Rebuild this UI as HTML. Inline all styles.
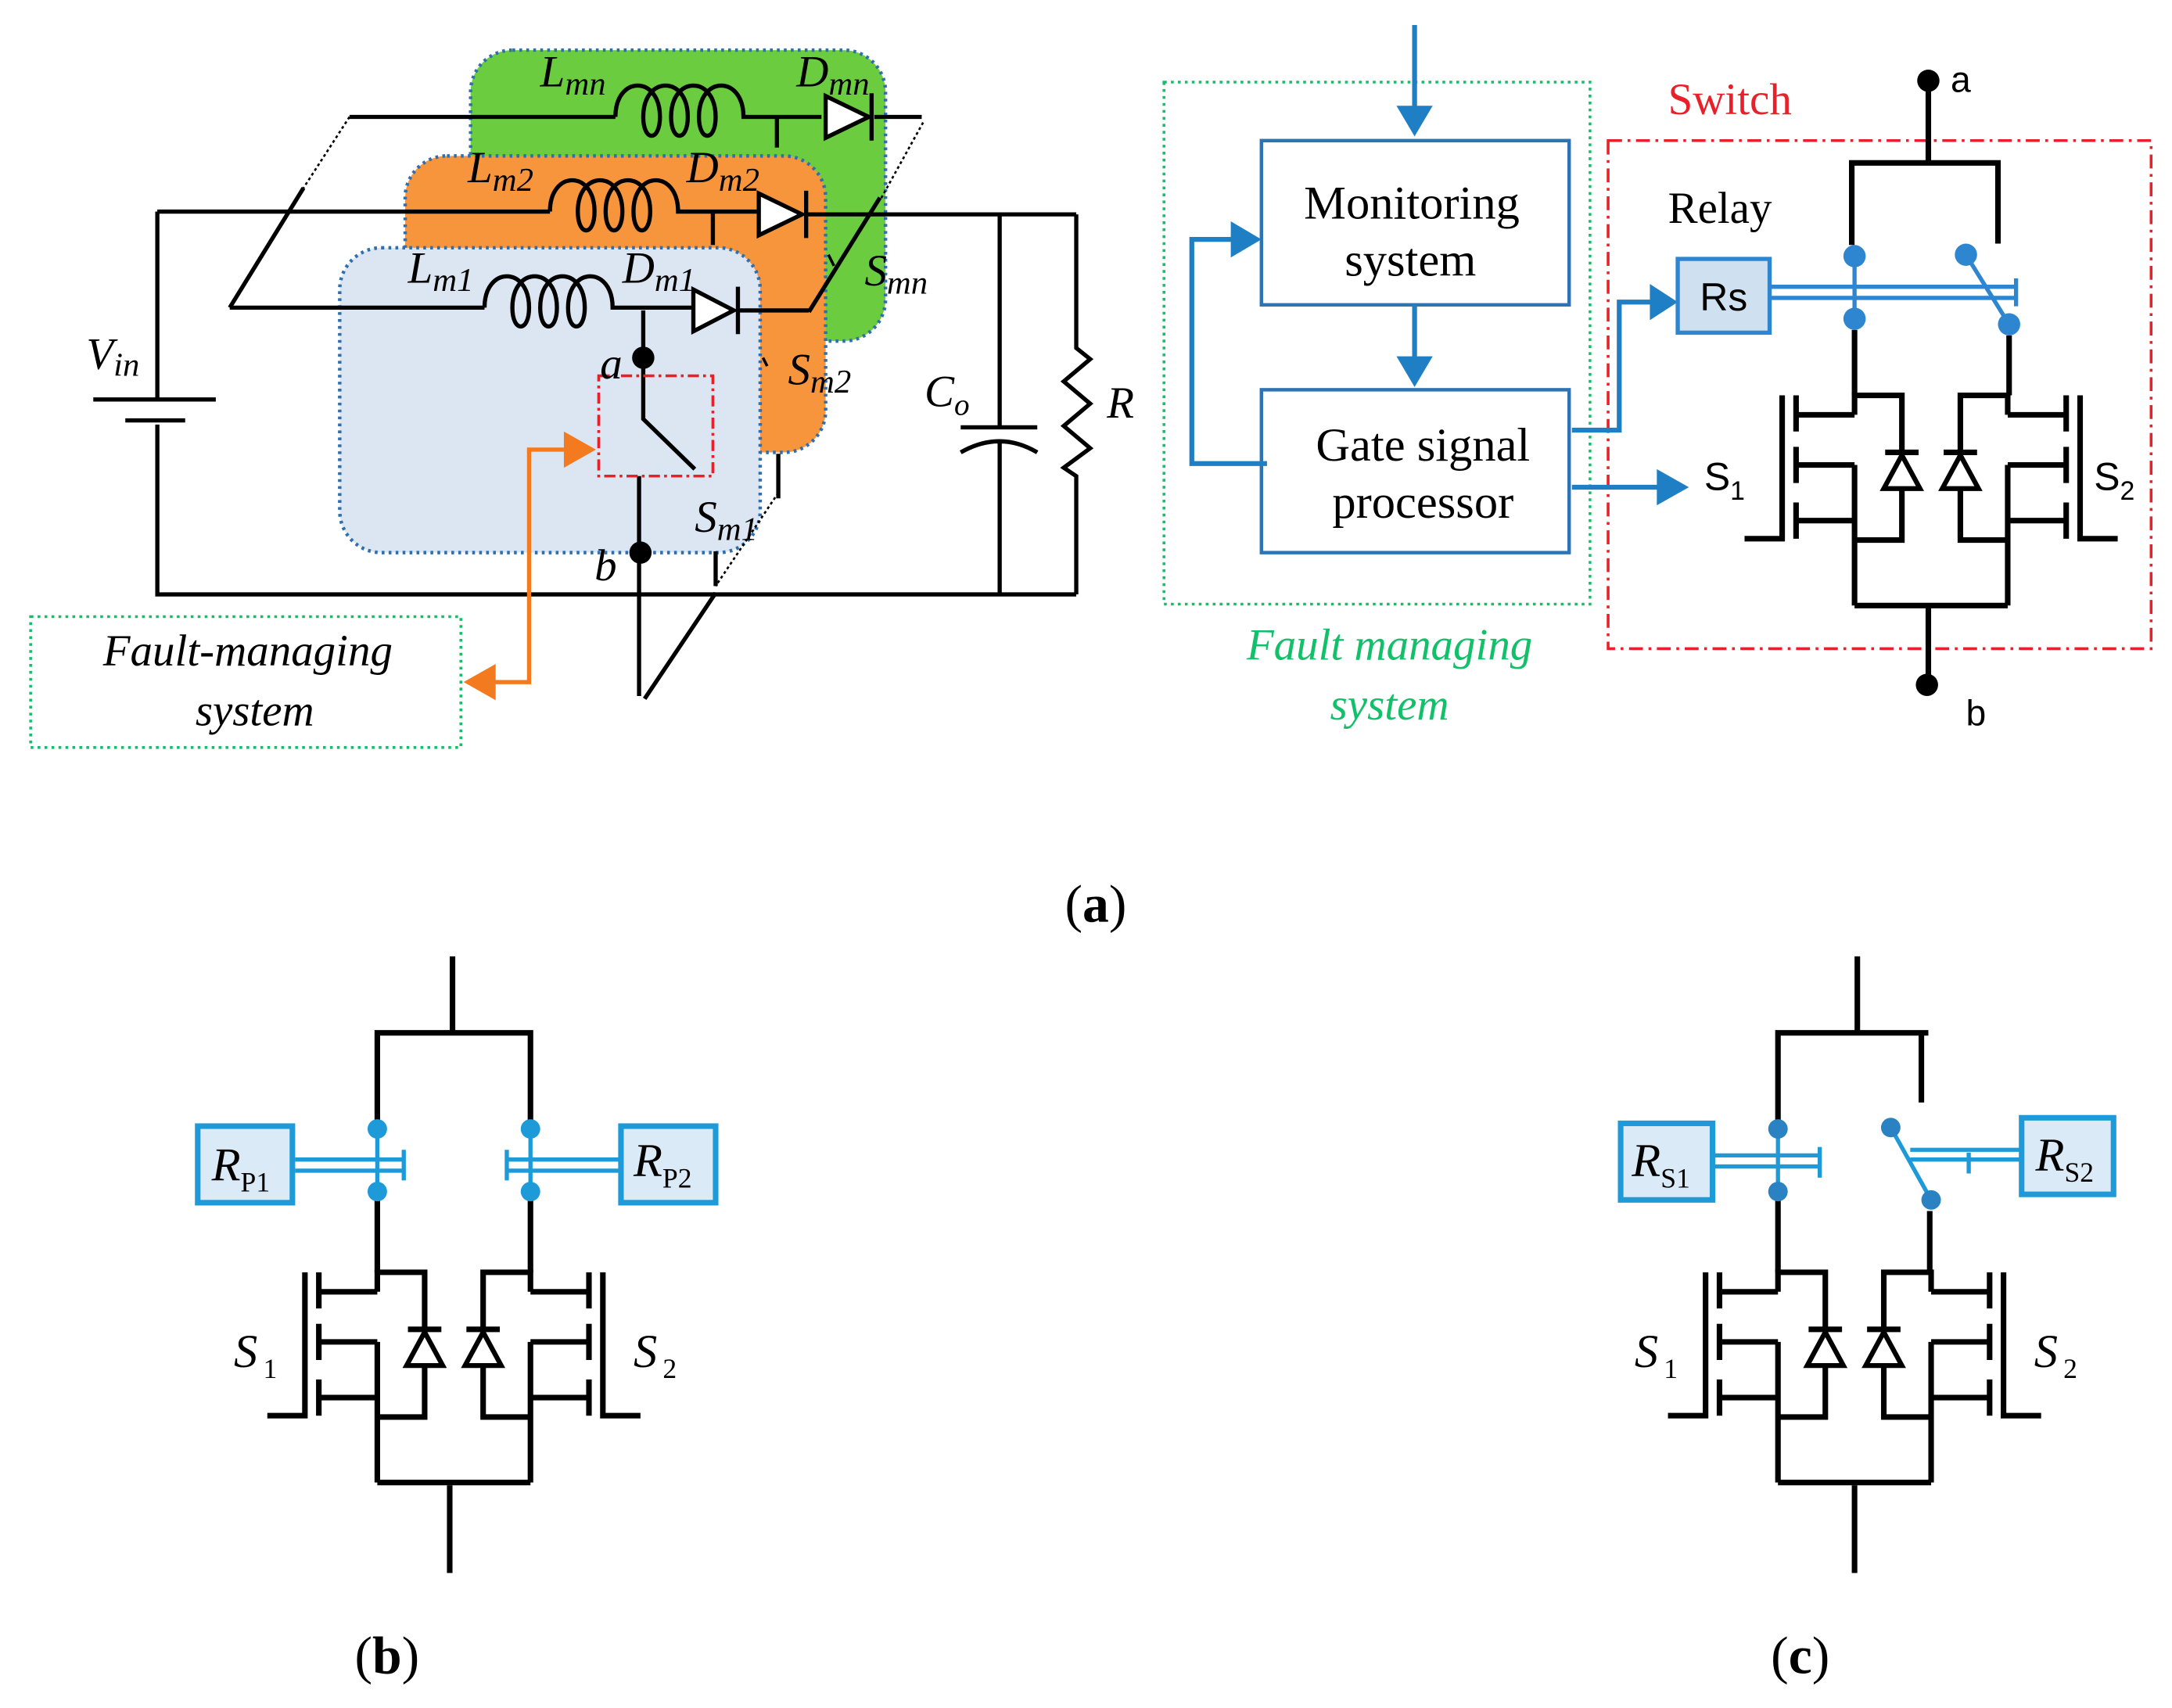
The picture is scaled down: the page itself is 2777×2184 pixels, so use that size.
<!DOCTYPE html>
<html><head><meta charset="utf-8"><style>
html,body{margin:0;padding:0;background:#fff;}
svg{display:block;}
text{font-family:"Liberation Serif",serif;}
</style></head><body>
<svg width="2777" height="2184" viewBox="0 0 1560 1227" preserveAspectRatio="none" xmlns="http://www.w3.org/2000/svg">
<defs>
<g id="fethalf" fill="none" stroke="#000" stroke-width="4">
  <path d="M0,-2 V14 M0,50 V151 M0,0 H34 V41 M34,68 V104 H0 M0,14 H-42 M-42,0 V26 M-42,37 V63 M-42,77 V103 M-52,0 V103 H-79 M-42,50 H0 M-42,90 H0"/>
  <path d="M22,41 H46" />
  <path d="M34,43 L21,67 H47 Z" fill="#fff" stroke-width="3.5"/>
</g>
<g id="fetpair">
  <use href="#fethalf"/>
  <use href="#fethalf" transform="translate(110,0) scale(-1,1)"/>
  <path d="M0,151 H110" stroke="#000" stroke-width="4"/>
</g>
</defs>

<!-- ============ Panel (a) left ============ -->
<rect x="338" y="36" width="298" height="209" rx="30" fill="#6ccc40" stroke="#2f6fb0" stroke-width="2.5" stroke-dasharray="2,3"/>
<rect x="291" y="112" width="302" height="213" rx="30" fill="#f7953d" stroke="#2f6fb0" stroke-width="2.5" stroke-dasharray="2,3"/>
<rect x="244" y="178" width="302" height="219" rx="30" fill="#dbe6f2" stroke="#2f6fb0" stroke-width="2.5" stroke-dasharray="2,3"/>

<g fill="none" stroke="#000" stroke-width="3">
  <path d="M251,84 H442"/>
  <path d="M442,84 c0,-30 32,-30 32,0 c0,18 -12,18 -12,0 c0,-30 32,-30 32,0 c0,18 -12,18 -12,0 c0,-30 32,-30 32,0 c0,18 -12,18 -12,0 c0,-30 32,-30 32,0 H590"/>
  <path d="M558,84 V106"/>
  <path d="M628,84 H662"/>
  <path d="M251,84 L218,135" stroke-width="1.5" stroke-dasharray="2,2"/>
  <path d="M663,88 L632,144" stroke-width="1.5" stroke-dasharray="2,2"/>
  <path d="M218,135 L165,221"/>
  <path d="M632,142 L581,224"/>
  <path d="M113,152 H395"/>
  <path d="M395,152 c0,-30 32,-30 32,0 c0,18 -12,18 -12,0 c0,-30 32,-30 32,0 c0,18 -12,18 -12,0 c0,-30 32,-30 32,0 c0,18 -12,18 -12,0 c0,-30 32,-30 32,0 H545"/>
  <path d="M512,152 V176"/>
  <path d="M580,154 H773"/>
  <path d="M165,221 H348"/>
  <path d="M348,221 c0,-30 32,-30 32,0 c0,18 -12,18 -12,0 c0,-30 32,-30 32,0 c0,18 -12,18 -12,0 c0,-30 32,-30 32,0 c0,18 -12,18 -12,0 c0,-30 32,-30 32,0 H497"/>
  <path d="M530,223 H581"/>
  <path d="M462,223 V257 V301 L499,337"/>
  <path d="M459,342 V500"/>
  <path d="M559,326 V358 M514,396 V421"/>
  <path d="M559,354 L514,421" stroke-width="1.5" stroke-dasharray="2,2"/>
  <path d="M514,426 L463,502"/>
  <path d="M595,183 l4,8 M548,257 l3,6" stroke-width="2"/>
  <path d="M113,152 V286 M67,287 H155 M90,302 H133 M113,305 V427 H773"/>
  <path d="M718,154 V307 M690,307 H745 M690,325 Q718,309 745,325 M718,317 V427"/>
  <path d="M773,154 V250 L783,258 L764,274 L783,290 L764,306 L783,322 L764,336 L773,342 V427"/>
</g>
<g fill="#fff" stroke="#000" stroke-width="3">
  <path d="M593,69 V99 L624,84 Z"/><path d="M626,67 V101" fill="none"/>
  <path d="M545,139 V169 L576,154 Z"/><path d="M579,137 V171" fill="none"/>
  <path d="M498,208 V238 L527,223 Z"/><path d="M530,206 V240" fill="none"/>
</g>
<circle cx="462" cy="257" r="8" fill="#000"/>
<circle cx="460" cy="397" r="8" fill="#000"/>
<rect x="430" y="270" width="82" height="72" fill="none" stroke="#e8202a" stroke-width="2" stroke-dasharray="8,3,2,3"/>
<g stroke="#f47a20" stroke-width="3" fill="none"><path d="M350,490 H380 V323 H405"/></g>
<path d="M405,310 L428,323 L405,336 Z" fill="#f47a20"/>
<path d="M356,477 L333,490 L356,503 Z" fill="#f47a20"/>
<rect x="22" y="443" width="309" height="94" fill="none" stroke="#12c06a" stroke-width="2" stroke-dasharray="2,3"/>
<g font-style="italic" font-size="32" fill="#000">
  <text x="178" y="478" text-anchor="middle">Fault-managing</text>
  <text x="183" y="521" text-anchor="middle">system</text>
  <text x="388" y="62">L<tspan font-size="24" dy="6">mn</tspan></text>
  <text x="572" y="62">D<tspan font-size="24" dy="6">mn</tspan></text>
  <text x="336" y="131">L<tspan font-size="24" dy="6">m2</tspan></text>
  <text x="493" y="131">D<tspan font-size="24" dy="6">m2</tspan></text>
  <text x="293" y="203">L<tspan font-size="24" dy="6">m1</tspan></text>
  <text x="447" y="203">D<tspan font-size="24" dy="6">m1</tspan></text>
  <text x="621" y="205">S<tspan font-size="24" dy="6">mn</tspan></text>
  <text x="566" y="276">S<tspan font-size="24" dy="6">m2</tspan></text>
  <text x="499" y="382">S<tspan font-size="24" dy="6">m1</tspan></text>
  <text x="431" y="272">a</text>
  <text x="427" y="417">b</text>
  <text x="62" y="265">V<tspan font-size="24" dy="5">in</tspan></text>
  <text x="664" y="292">C<tspan font-size="22" dy="6">o</tspan></text>
  <text x="795" y="300">R</text>
</g>

<!-- ============ Panel (a) right ============ -->
<rect x="836" y="59" width="306" height="375" fill="none" stroke="#12c06a" stroke-width="2" stroke-dasharray="2,3"/>
<rect x="1155" y="101" width="390" height="365" fill="none" stroke="#e8202a" stroke-width="2" stroke-dasharray="10,4,2,4"/>
<rect x="906" y="101" width="221" height="118" fill="#fff" stroke="#2e74b5" stroke-width="2.5"/>
<rect x="906" y="280" width="221" height="117" fill="#fff" stroke="#2e74b5" stroke-width="2.5"/>
<g font-size="34" fill="#000" text-anchor="middle">
  <text x="1014" y="157">Monitoring</text>
  <text x="1013" y="198">system</text>
  <text x="1022" y="331">Gate signal</text>
  <text x="1022" y="372">processor</text>
</g>
<g stroke="#1f7fc4" stroke-width="3.5" fill="none">
  <path d="M1016,18 V80"/>
  <path d="M1016,219 V258"/>
  <path d="M910,333 H856 V172 H888"/>
  <path d="M1129,309 H1163 V217 H1188"/>
  <path d="M1129,350 H1195"/>
</g>
<g fill="#1f7fc4">
  <path d="M1003,76 L1016,98 L1029,76 Z"/>
  <path d="M1003,256 L1016,278 L1029,256 Z"/>
  <path d="M884,159 L906,172 L884,185 Z"/>
  <path d="M1185,204 L1205,217 L1185,230 Z"/>
  <path d="M1190,337 L1213,350 L1190,363 Z"/>
</g>
<text x="1198" y="82" font-size="32" fill="#e8202a">Switch</text>
<text x="1198" y="160" font-size="32" fill="#000">Relay</text>
<rect x="1205" y="186" width="66" height="53" fill="#cfe0f0" stroke="#2e86d0" stroke-width="3"/>
<text x="1238" y="223" font-size="28" text-anchor="middle" style="font-family:'Liberation Sans',sans-serif">Rs</text>
<g stroke="#2e86d0" stroke-width="3" fill="none">
  <path d="M1271,206 H1448 M1271,214 H1448 M1448,200 V220"/>
  <path d="M1332,184 V229"/>
  <path d="M1412,183 L1443,233"/>
</g>
<g fill="#2e86d0">
  <circle cx="1332" cy="184" r="8"/><circle cx="1332" cy="229" r="8"/>
  <circle cx="1412" cy="183" r="8"/><circle cx="1443" cy="233" r="8"/>
</g>
<g stroke="#000" stroke-width="4" fill="none">
  <path d="M1385,58 V117 M1330,117 H1435 M1330,115 V176 M1435,115 V175"/>
  <path d="M1332,237 V284 M1443,241 V284"/>
  <path d="M1385,434 V492"/>
</g>
<circle cx="1385" cy="58" r="8" fill="#000"/>
<circle cx="1384" cy="492" r="8" fill="#000"/>
<use href="#fetpair" transform="translate(1332,284)"/>
<g fill="#000">
  <text x="1401" y="66" font-size="26" style="font-family:'Liberation Sans',sans-serif">a</text>
  <text x="1412" y="521" font-size="26" style="font-family:'Liberation Sans',sans-serif">b</text>
  <text x="1224" y="352" font-size="28" style="font-family:'Liberation Sans',sans-serif">S<tspan font-size="19" dy="7">1</tspan></text>
  <text x="1504" y="352" font-size="28" style="font-family:'Liberation Sans',sans-serif">S<tspan font-size="19" dy="7">2</tspan></text>
</g>
<g font-style="italic" font-size="32" fill="#12c06a" text-anchor="middle">
  <text x="998" y="474">Fault managing</text>
  <text x="998" y="517">system</text>
</g>
<text x="787" y="662" font-size="38" text-anchor="middle">(<tspan font-weight="bold">a</tspan>)</text>

<!-- ============ Panel (b) ============ -->
<g stroke="#000" stroke-width="4" fill="none">
  <path d="M325,687 V742 M271,742 H383 M271,740 V805 M381,740 V805 M271,862 V914 M381,862 V914 M323,1067 V1130"/>
</g>
<use href="#fetpair" transform="translate(271,914)"/>
<rect x="142" y="809" width="68" height="55" fill="#dbeaf7" stroke="#1e9ad8" stroke-width="4"/>
<rect x="446" y="809" width="68" height="55" fill="#dbeaf7" stroke="#1e9ad8" stroke-width="4"/>
<g stroke="#1e9ad8" stroke-width="3" fill="none">
  <path d="M212,833 H290 M212,841 H290 M290,826 V848 M271,811 V856"/>
  <path d="M364,833 H446 M364,841 H446 M364,826 V848 M381,811 V856"/>
</g>
<g fill="#1e9ad8"><circle cx="271" cy="811" r="7"/><circle cx="271" cy="856" r="7"/><circle cx="381" cy="811" r="7"/><circle cx="381" cy="856" r="7"/></g>
<g font-size="34" fill="#000">
  <text x="152" y="848" font-style="italic">R<tspan font-style="normal" font-size="20" dy="8">P1</tspan></text>
  <text x="455" y="845" font-style="italic">R<tspan font-style="normal" font-size="20" dy="8">P2</tspan></text>
  <text x="168" y="982" font-style="italic">S<tspan font-style="normal" font-size="20" dy="8" dx="4">1</tspan></text>
  <text x="455" y="982" font-style="italic">S<tspan font-style="normal" font-size="20" dy="8" dx="4">2</tspan></text>
</g>
<text x="278" y="1202" font-size="38" text-anchor="middle">(<tspan font-weight="bold">b</tspan>)</text>

<!-- ============ Panel (c) ============ -->
<g stroke="#000" stroke-width="4" fill="none">
  <path d="M1334,687 V742 M1277,742 H1385 M1277,740 V805 M1380,740 V792 M1277,862 V914 M1386,870 V914 M1332,1067 V1130"/>
</g>
<use href="#fetpair" transform="translate(1277,914)"/>
<rect x="1164" y="807" width="66" height="55" fill="#dbeaf7" stroke="#1e9ad8" stroke-width="4"/>
<rect x="1452" y="803" width="66" height="55" fill="#dbeaf7" stroke="#1e9ad8" stroke-width="4"/>
<g stroke="#1e9ad8" stroke-width="3" fill="none">
  <path d="M1230,830 H1307 M1230,838 H1307 M1307,824 V846 M1277,811 V856"/>
  <path d="M1372,826 H1452 M1372,833 H1452 M1414,828 V843 M1358,810 L1387,862"/>
</g>
<g fill="#2a82c2"><circle cx="1277" cy="811" r="7"/><circle cx="1277" cy="856" r="7"/><circle cx="1358" cy="810" r="7"/><circle cx="1387" cy="862" r="7"/></g>
<g font-size="34" fill="#000">
  <text x="1172" y="845" font-style="italic">R<tspan font-style="normal" font-size="20" dy="8">S1</tspan></text>
  <text x="1462" y="841" font-style="italic">R<tspan font-style="normal" font-size="20" dy="8">S2</tspan></text>
  <text x="1174" y="982" font-style="italic">S<tspan font-style="normal" font-size="20" dy="8" dx="4">1</tspan></text>
  <text x="1461" y="982" font-style="italic">S<tspan font-style="normal" font-size="20" dy="8" dx="4">2</tspan></text>
</g>
<text x="1293" y="1202" font-size="38" text-anchor="middle">(<tspan font-weight="bold">c</tspan>)</text>
</svg>
</body></html>
